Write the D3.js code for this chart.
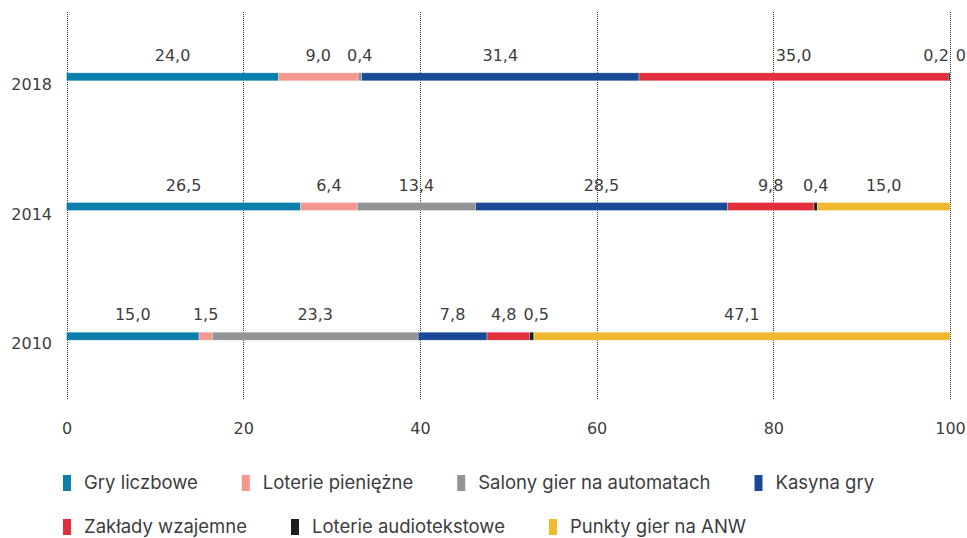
<!DOCTYPE html>
<html><head><meta charset="utf-8">
<script src="https://cdn.jsdelivr.net/npm/d3@7"></script>
<style>
html,body{margin:0;padding:0;background:#fff;}
svg{display:block;}
</style></head>
<body>
<svg id="chart" width="967" height="538"></svg>
<script>
const years = ["2018", "2014", "2010"];
const seriesNames = ["Gry liczbowe", "Loterie pieniężne", "Salony gier na automatach", "Kasyna gry", "Zakłady wzajemne", "Loterie audiotekstowe", "Punkty gier na ANW"];
const seriesColors = ["#0b7fac", "#f4978f", "#939497", "#1a4a95", "#e1303c", "#1e1e1e", "#efb92f"];
const gryLiczbowe = [24.0, 26.5, 15.0];
const loteriePieniezne = [9.0, 6.4, 1.5];
const salonyGier = [0.4, 13.4, 23.3];
const kasynaGry = [31.4, 28.5, 7.8];
const zakladyWzajemne = [35.0, 9.8, 4.8];
const loterieAudio = [0.2, 0.4, 0.5];
const punktyANW = [0, 15.0, 47.1];
const xTicks = [0, 20, 40, 60, 80, 100];

const seriesValues = [gryLiczbowe, loteriePieniezne, salonyGier, kasynaGry, zakladyWzajemne, loterieAudio, punktyANW];
const rows = years.map((y, i) => {
  const r = {year: y};
  seriesNames.forEach((s, j) => r[s] = seriesValues[j][i]);
  return r;
});

const svg = d3.select("#chart");
const x = d3.scaleLinear().domain([0, 100]).range([66.5, 950]);
const y = d3.scaleBand().domain(years).range([12, 401]).paddingInner(0);
const barH = 8;
const numFont = "'DejaVu Sans', sans-serif";
const textColor = "#3d3d3d";

// gridlines
svg.append("g").selectAll("line").data(xTicks).join("line")
  .attr("x1", d => Math.round(x(d)) + 0.5).attr("x2", d => Math.round(x(d)) + 0.5)
  .attr("y1", y.range()[0]).attr("y2", y.range()[1] - 1)
  .attr("stroke", "#333").attr("stroke-width", 1).attr("stroke-dasharray", "1,1");

// x axis labels
const xAxis = d3.axisBottom(x).tickValues(xTicks).tickSize(0).tickPadding(0).tickFormat(d3.format("d"));
const gx = svg.append("g").attr("transform", "translate(0,423)").call(xAxis);
gx.select(".domain").remove();
gx.selectAll("text").attr("font-family", numFont).attr("font-size", 16).attr("fill", textColor).attr("dy", "0.71em");

// y labels
const yAxis = d3.axisLeft(y).tickSize(0).tickPadding(0);
const gy = svg.append("g").attr("transform", "translate(52,8)").call(yAxis);
gy.select(".domain").remove();
gy.selectAll("text").attr("font-family", numFont).attr("font-size", 16).attr("fill", textColor);

// stacks
const stack = d3.stack().keys(seriesNames);
const stacked = stack(rows);

const layers = svg.append("g").selectAll("g").data(stacked).join("g")
  .attr("fill", (d, i) => seriesColors[i]);
layers.selectAll("rect").data(d => d.map(p => ({p, key: d.key}))).join("rect")
  .attr("x", d => x(d.p[0]))
  .attr("width", d => Math.max(0, x(d.p[1]) - x(d.p[0])))
  .attr("y", d => y(d.p.data.year) + y.bandwidth() / 2 - barH / 2)
  .attr("height", barH)
  .attr("stroke", "#fff").attr("stroke-width", 0.5).attr("stroke-opacity", 0.6);

// value labels with collision avoidance
const fmt = v => v === 0 ? "0" : v.toFixed(1).replace(".", ",");
const labelG = svg.append("g");
const gap = 7, maxRight = 966;
years.forEach((yr, yi) => {
  const items = stacked.map((s, si) => {
    const p = s[yi];
    const t = labelG.append("text")
      .attr("font-family", numFont).attr("font-size", 16).attr("fill", textColor)
      .attr("text-anchor", "middle")
      .attr("y", y(yr) + y.bandwidth() / 2 - barH / 2 - 12)
      .text(fmt(p[1] - p[0]));
    const w = t.node().getComputedTextLength();
    return {t, w, desired: x((p[0] + p[1]) / 2)};
  });
  const clusters = [];
  const layout = c => {
    let off = 0; c.items.forEach(i => { i.rel = off + i.w / 2; off += i.w + gap; });
    c.width = off - gap;
    c.start = d3.mean(c.items, i => i.desired - i.rel);
  };
  items.forEach(it => {
    clusters.push({items: [it]});
    layout(clusters[clusters.length - 1]);
    while (clusters.length > 1) {
      const a = clusters[clusters.length - 2], b = clusters[clusters.length - 1];
      if (a.start + a.width + gap > b.start) {
        a.items = a.items.concat(b.items);
        clusters.pop();
        layout(a);
      } else break;
    }
  });
  clusters.forEach(c => {
    if (c.start + c.width > maxRight) c.start = maxRight - c.width;
    c.items.forEach(i => i.t.attr("x", c.start + i.rel));
  });
});

// legend
const legendFont = "'Inter', 'Noto Sans', sans-serif";
const legendRows = [[0, 1, 2, 3], [4, 5, 6]];
const legend = svg.append("g");
legendRows.forEach((row, ri) => {
  let cx = 63;
  const ly = 475 + ri * 44;
  row.forEach(si => {
    legend.append("rect").attr("x", cx).attr("y", ly).attr("width", 8).attr("height", 16)
      .attr("fill", seriesColors[si]);
    const t = legend.append("text").attr("x", cx + 21).attr("y", ly + 14)
      .attr("font-family", legendFont).attr("font-size", 18.5).attr("fill", textColor)
      .text(seriesNames[si]);
    cx += 21 + t.node().getComputedTextLength() + 44;
  });
});
</script>
</body></html>
